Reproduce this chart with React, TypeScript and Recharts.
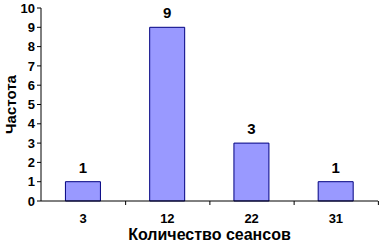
import React from 'react';
import { BarChart, Bar, XAxis, YAxis, LabelList } from 'recharts';

const sessions = ['3', '12', '22', '31'];
const frequency = [1, 9, 3, 1];
const yTicks = [0, 1, 2, 3, 4, 5, 6, 7, 8, 9, 10];

const data = sessions.map((s, i) => ({ name: s, count: frequency[i] }));

const font = '"Liberation Sans", Arial, sans-serif';

// Excel-style: tick marks sit between categories, label in the middle
const XTick = (props: any) => {
  const { x, y, payload } = props;
  return (
    <g>
      <line x1={x + 42.5} y1={y - 8} x2={x + 42.5} y2={y - 4} stroke="#000" strokeWidth={1} />
      <text x={x} y={y + 14} textAnchor="middle" fontSize={13} fontWeight="bold" fill="#000" fontFamily={font}>
        {payload.value}
      </text>
    </g>
  );
};

export default function App() {
  return (
    <div style={{ position: 'absolute', left: 0, top: 0, width: 384, height: 244, background: '#fff' }}>
      <BarChart
        width={384}
        height={244}
        data={data}
        margin={{ top: 8, right: 6, left: 0, bottom: 0 }}
        barCategoryGap="29%"
      >
        <XAxis
          dataKey="name"
          height={43}
          tickLine={false}
          tick={<XTick />}
          axisLine={{ stroke: '#000' }}
          label={{
            value: 'Количество сеансов',
            position: 'insideBottom',
            offset: 4,
            style: { fontSize: 16, fontWeight: 'bold', fill: '#000', fontFamily: font },
          }}
        />
        <YAxis
          width={41}
          domain={[0, 10]}
          ticks={yTicks}
          interval={0}
          tickSize={4}
          tickLine={{ stroke: '#000' }}
          axisLine={{ stroke: '#000' }}
          tick={{ fontSize: 13, fontWeight: 'bold', fill: '#000', fontFamily: font }}
          label={{
            value: 'Частота',
            angle: -90,
            position: 'insideLeft',
            offset: 11,
            style: { textAnchor: 'middle', fontSize: 15, fontWeight: 'bold', fill: '#000', fontFamily: font },
          }}
        />
        <Bar dataKey="count" fill="#9999ff" stroke="#000080" strokeWidth={1} isAnimationActive={false}>
          <LabelList
            dataKey="count"
            position="top"
            offset={9}
            style={{ fontSize: 15, fontWeight: 'bold', fill: '#000', fontFamily: font }}
          />
        </Bar>
      </BarChart>
    </div>
  );
}
